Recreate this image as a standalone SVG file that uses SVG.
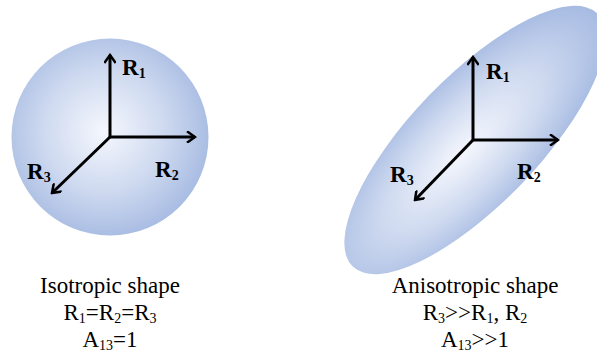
<svg xmlns="http://www.w3.org/2000/svg" width="597" height="354" viewBox="0 0 597 354">
<defs>
<radialGradient id="gc" cx="0.47" cy="0.47" r="0.55">
<stop offset="0" stop-color="#f5f7fd"/>
<stop offset="0.55" stop-color="#cfdaf0"/>
<stop offset="1" stop-color="#a7bbe2"/>
</radialGradient>
<radialGradient id="ge" cx="0.45" cy="0.5" r="0.55">
<stop offset="0" stop-color="#f5f7fd"/>
<stop offset="0.55" stop-color="#cfdaf0"/>
<stop offset="1" stop-color="#a7bbe2"/>
</radialGradient>
<marker id="ah" viewBox="0 0 12 12" refX="10" refY="6" markerWidth="12" markerHeight="12" markerUnits="userSpaceOnUse" orient="auto">
<path d="M3,1 L10,6 L3,11" fill="none" stroke="#000" stroke-width="2.5" stroke-linecap="square"/>
</marker>
<style>
.ax{stroke:#000;stroke-width:3;fill:none;marker-end:url(#ah)}
.lb{font-family:"Liberation Serif","Times New Roman",serif;font-weight:bold;font-size:23px;fill:#000}
.cap{font-family:"Liberation Serif","Times New Roman",serif;font-size:23px;fill:#000;text-anchor:middle}
</style>
</defs>
<g id="isotropic">
<circle cx="110" cy="137" r="98.5" fill="url(#gc)"/>
</g>
<g id="anisotropic">
<ellipse cx="475" cy="140" rx="176" ry="64" transform="rotate(-46 475 140)" fill="url(#ge)"/>
</g>
<g id="connectors">
<line class="ax" x1="110" y1="137" x2="110" y2="55"/>
<line class="ax" x1="110" y1="137" x2="195" y2="137"/>
<line class="ax" x1="110" y1="137" x2="52" y2="193"/>
<line class="ax" x1="473" y1="140" x2="473" y2="57"/>
<line class="ax" x1="473" y1="140" x2="558" y2="140"/>
<line class="ax" x1="473" y1="140" x2="415" y2="200"/>
</g>
<g id="labels">
<text class="lb" x="122" y="75">R<tspan font-size="14" dy="3">1</tspan></text>
<text class="lb" x="155" y="177">R<tspan font-size="14" dy="3">2</tspan></text>
<text class="lb" x="27" y="179">R<tspan font-size="14" dy="3">3</tspan></text>
<text class="lb" x="486" y="79">R<tspan font-size="14" dy="3">1</tspan></text>
<text class="lb" x="517" y="179">R<tspan font-size="14" dy="3">2</tspan></text>
<text class="lb" x="390" y="182">R<tspan font-size="14" dy="3">3</tspan></text>
</g>
<g id="caption-left">
<text class="cap" x="110" y="293">Isotropic shape</text>
<text class="cap" x="110" y="320">R<tspan font-size="14" dy="3">1</tspan><tspan dy="-3">=R</tspan><tspan font-size="14" dy="3">2</tspan><tspan dy="-3">=R</tspan><tspan font-size="14" dy="3">3</tspan></text>
<text class="cap" x="110" y="347">A<tspan font-size="14" dy="3">13</tspan><tspan dy="-3">=1</tspan></text>
</g>
<g id="caption-right">
<text class="cap" x="475" y="293">Anisotropic shape</text>
<text class="cap" x="475" y="320">R<tspan font-size="14" dy="3">3</tspan><tspan dy="-3">&gt;&gt;R</tspan><tspan font-size="14" dy="3">1</tspan><tspan dy="-3">, R</tspan><tspan font-size="14" dy="3">2</tspan></text>
<text class="cap" x="475" y="347">A<tspan font-size="14" dy="3">13</tspan><tspan dy="-3">&gt;&gt;1</tspan></text>
</g>
</svg>
